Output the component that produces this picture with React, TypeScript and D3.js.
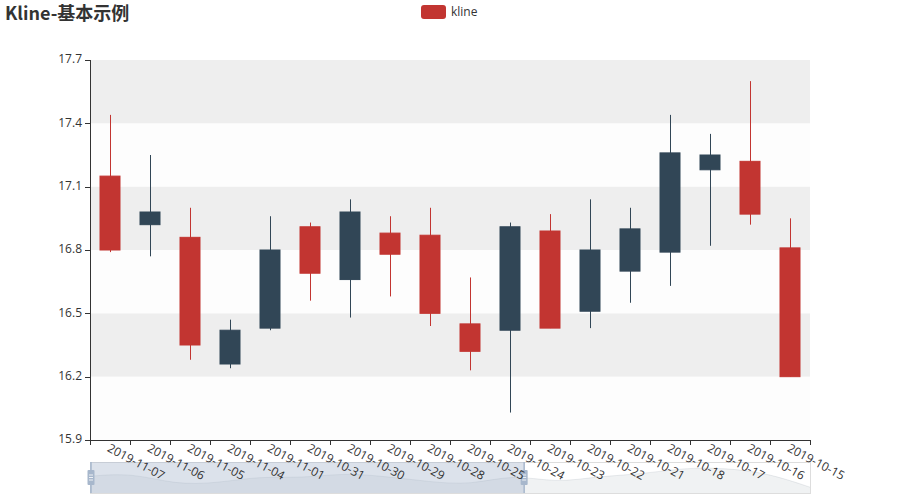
import React from "react";
import * as d3 from "d3";

const dates = [
  "2019-11-07", "2019-11-06", "2019-11-05", "2019-11-04", "2019-11-01", "2019-10-31",
  "2019-10-30", "2019-10-29", "2019-10-28", "2019-10-25", "2019-10-24", "2019-10-23",
  "2019-10-22", "2019-10-21", "2019-10-18", "2019-10-17", "2019-10-16", "2019-10-15",
];
const opens = [16.80, 16.98, 16.35, 16.42, 16.80, 16.69, 16.98, 16.78, 16.50, 16.32, 16.91, 16.43, 16.80, 16.90, 17.26, 17.25, 16.97, 16.20];
const closes = [17.15, 16.92, 16.86, 16.26, 16.43, 16.91, 16.66, 16.88, 16.87, 16.45, 16.42, 16.89, 16.51, 16.70, 16.79, 17.18, 17.22, 16.81];
const lows = [16.79, 16.77, 16.28, 16.24, 16.42, 16.56, 16.48, 16.58, 16.44, 16.23, 16.03, 16.43, 16.43, 16.55, 16.63, 16.82, 16.92, 16.20];
const highs = [17.44, 17.25, 17.00, 16.47, 16.96, 16.93, 17.04, 16.96, 17.00, 16.67, 16.93, 16.97, 17.04, 17.00, 17.44, 17.35, 17.60, 16.95];
const yTicks = [15.9, 16.2, 16.5, 16.8, 17.1, 17.4, 17.7];
const titleText = "Kline-基本示例";
const seriesName = "kline";
const zoomEnd = 0.603;

const UP = "#c23531";
const DOWN = "#314656";
const FONT = "'Open Sans', 'Noto Sans CJK SC', sans-serif";

export default function App() {
  const W = 900, H = 500;
  const left = 90, right = 810, top = 60, bottom = 440;
  const x = d3.scaleBand<string>().domain(dates).range([left, right]).padding(0);
  const y = d3.scaleLinear().domain([15.9, 17.7]).range([bottom, top]);
  const bw = x.bandwidth();
  const bodyW = bw * 0.5;

  // slider
  const sTop = 462, sH = 31;
  const sx = d3.scaleLinear().domain([0, dates.length - 1]).range([left, right]);
  const ext = d3.extent(opens) as [number, number];
  const off = (ext[1] - ext[0]) * 0.3;
  const sy = d3.scaleLinear().domain([ext[0] - off, ext[1] + off]).range([sTop + sH, sTop]);
  const area = d3.area<number>().x((_, i) => sx(i)).y0(sTop + sH).y1((d) => sy(d)).curve(d3.curveBasis);
  const line = d3.line<number>().x((_, i) => sx(i)).y((d) => sy(d)).curve(d3.curveBasis);
  const zx = left + (right - left) * zoomEnd;

  const handle = (hx: number) => (
    <g>
      <line x1={hx} x2={hx} y1={sTop} y2={sTop + sH} stroke="#a7b7cc" strokeWidth={1.5} />
      <rect x={hx - 3.5} y={sTop + 8} width={7} height={15} fill="#a7b7cc" rx={1} />
      <line x1={hx - 2} x2={hx + 2} y1={sTop + 13} y2={sTop + 13} stroke="#fff" strokeWidth={0.8} />
      <line x1={hx - 2} x2={hx + 2} y1={sTop + 15.5} y2={sTop + 15.5} stroke="#fff" strokeWidth={0.8} />
      <line x1={hx - 2} x2={hx + 2} y1={sTop + 18} y2={sTop + 18} stroke="#fff" strokeWidth={0.8} />
    </g>
  );

  return (
    <svg width={W} height={H} style={{ position: "absolute", left: 0, top: 0, background: "#fff" }} fontFamily={FONT}>
      {/* split areas */}
      {yTicks.slice(0, -1).map((t, i) => (
        <rect key={"sa" + i} x={left} y={y(yTicks[i + 1])} width={right - left} height={y(t) - y(yTicks[i + 1])}
          fill={i % 2 === 0 ? "rgba(250,250,250,0.3)" : "rgba(200,200,200,0.3)"} />
      ))}

      {/* candles */}
      {dates.map((d, i) => {
        const cx = (x(d) as number) + bw / 2;
        const up = closes[i] >= opens[i];
        const c = up ? UP : DOWN;
        const yt = y(Math.max(opens[i], closes[i]));
        const yb = y(Math.min(opens[i], closes[i]));
        return (
          <g key={d}>
            <line x1={cx + 0.5} x2={cx + 0.5} y1={y(highs[i])} y2={y(lows[i])} stroke={c} strokeWidth={1} />
            <rect x={cx - bodyW / 2} y={yt} width={bodyW} height={Math.max(1, yb - yt)} fill={c} stroke={c} strokeWidth={1} />
          </g>
        );
      })}

      {/* y axis */}
      <line x1={left + 0.5} x2={left + 0.5} y1={top} y2={bottom} stroke="#333" />
      {yTicks.map((t) => (
        <g key={"yt" + t}>
          <line x1={left - 5} x2={left} y1={Math.round(y(t)) + 0.5} y2={Math.round(y(t)) + 0.5} stroke="#333" />
          <text x={left - 8} y={y(t)} textAnchor="end" dominantBaseline="middle" fontSize={12} fill="#333">{t.toFixed(1)}</text>
        </g>
      ))}

      {/* slider */}
      <rect x={left + 0.5} y={sTop + 0.5} width={right - left} height={sH} fill="none" stroke="#ddd" />
      <path d={area(opens) || ""} fill="rgba(47,69,84,0.07)" />
      <path d={line(opens) || ""} fill="none" stroke="rgba(47,69,84,0.12)" strokeWidth={0.8} />
      <rect x={left} y={sTop} width={zx - left} height={sH} fill="rgba(167,183,204,0.4)" />
      {handle(left + 1)}
      {handle(zx)}

      {/* x axis */}
      <line x1={left} x2={right} y1={bottom + 0.5} y2={bottom + 0.5} stroke="#333" />
      {d3.range(dates.length + 1).map((i) => {
        const tx = left + i * bw + 0.5;
        return <line key={"xt" + i} x1={tx} x2={tx} y1={bottom} y2={bottom + 5} stroke="#333" />;
      })}
      {dates.map((d) => {
        const cx = (x(d) as number) + bw / 2;
        return (
          <text key={"xl" + d} transform={`translate(${cx - 2},${bottom + 8}) rotate(28)`} textAnchor="start"
            dominantBaseline="middle" fontSize={12} fill="#333">{d}</text>
        );
      })}

      {/* title */}
      <text x={5} y={20} fontSize={18} fontWeight="bold" fill="#333" fontFamily="'Noto Sans CJK SC', sans-serif">{titleText}</text>

      {/* legend */}
      <rect x={421} y={5} width={25} height={14} rx={3} fill={UP} />
      <text x={451} y={12.5} fontSize={12} fill="#333" dominantBaseline="middle">{seriesName}</text>
    </svg>
  );
}
